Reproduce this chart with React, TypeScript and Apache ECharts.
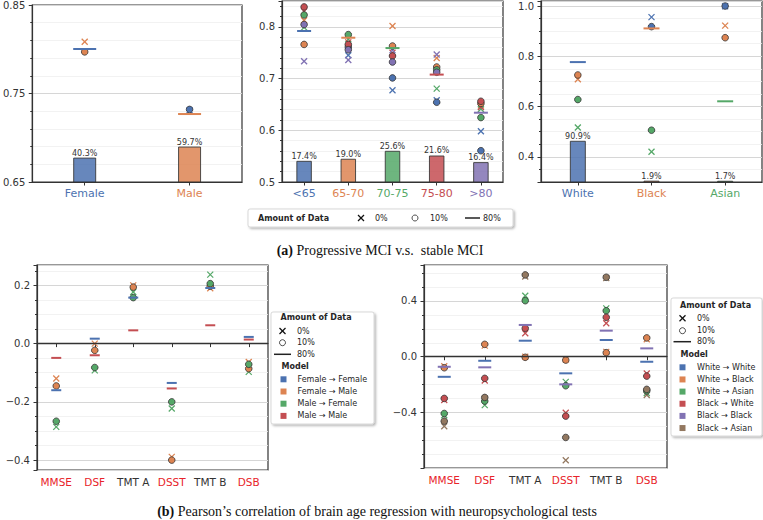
import React, { useEffect, useRef } from "react";
import * as echarts from "echarts";

const PALETTE = ["#4C72B0", "#DD8452", "#55A868", "#C44E52", "#8172B3", "#937860"];
const TEST_RED = "#E8232A";
const INK = "#333333";

// marker codes: 0 = "×" (0% data), 1 = "○" (10% data), 2 = "—" (80% data)
// point tuple: [categoryIndex, value, colorIndex, marker]

// ---- (a) gender ----
const genderCats = ["Female", "Male"];
const genderCatColors = [0, 1];
const genderPct = [40.3, 59.7];
const genderBarTop = [0.677, 0.6895];
const genderPoints: number[][] = [
  [0, 0.8085, 1, 0], [0, 0.797, 1, 1], [0, 0.8003, 0, 2],
  [1, 0.731, 0, 0], [1, 0.732, 0, 1], [1, 0.7268, 1, 2],
];

// ---- (a) age ----
const ageCats = ["<65", "65-70", "70-75", "75-80", ">80"];
const ageCatColors = [0, 1, 2, 3, 4];
const agePct = [17.4, 19.0, 25.6, 21.6, 16.4];
const ageBarTop = [0.54, 0.544, 0.5594, 0.5503, 0.5375];
const agePoints: number[][] = [
  [0, 0.792, 0, 2], [0, 0.8128, 1, 0], [0, 0.766, 1, 1], [0, 0.799, 2, 0], [0, 0.823, 2, 1],
  [0, 0.83, 3, 0], [0, 0.8385, 3, 1], [0, 0.7335, 4, 0], [0, 0.8045, 4, 1],
  [1, 0.779, 1, 2], [1, 0.745, 0, 0], [1, 0.761, 0, 1], [1, 0.776, 2, 0], [1, 0.785, 2, 1],
  [1, 0.77, 3, 0], [1, 0.766, 3, 1], [1, 0.736, 4, 0], [1, 0.7557, 4, 1],
  [2, 0.759, 2, 2], [2, 0.6774, 0, 0], [2, 0.7012, 0, 1], [2, 0.8017, 1, 0], [2, 0.763, 1, 1],
  [2, 0.75, 3, 0], [2, 0.7437, 3, 1], [2, 0.7547, 4, 0], [2, 0.732, 4, 1],
  [3, 0.7077, 3, 2], [3, 0.658, 0, 0], [3, 0.6542, 0, 1], [3, 0.7398, 1, 0], [3, 0.7224, 1, 1],
  [3, 0.6806, 2, 0], [3, 0.717, 2, 1], [3, 0.7464, 4, 0], [3, 0.7122, 4, 1],
  [4, 0.634, 4, 2], [4, 0.598, 0, 0], [4, 0.5605, 0, 1], [4, 0.648, 1, 0], [4, 0.652, 1, 1],
  [4, 0.641, 2, 0], [4, 0.6246, 2, 1], [4, 0.645, 3, 0], [4, 0.6561, 3, 1],
];

// ---- (a) race ----
const raceCats = ["White", "Black", "Asian"];
const raceCatColors = [0, 1, 2];
const racePct = [90.9, 1.9, 1.7];
const raceBarTop = [0.462, 0.3034, 0.303];
const racePoints: number[][] = [
  [0, 0.777, 0, 2], [0, 0.7086, 1, 0], [0, 0.7257, 1, 1], [0, 0.5165, 2, 0], [0, 0.628, 2, 1],
  [1, 0.911, 1, 2], [1, 0.956, 0, 0], [1, 0.918, 0, 1], [1, 0.42, 2, 0], [1, 0.506, 2, 1],
  [2, 0.621, 2, 2], [2, 0.999, 0, 0], [2, 1.0, 0, 1], [2, 0.922, 1, 0], [2, 0.874, 1, 1],
];

// ---- (b) tests ----
const testCats = ["MMSE", "DSF", "TMT A", "DSST", "TMT B", "DSB"];
const testIsRed = [true, true, false, true, false, true];

const genderTestPoints: number[][] = [
  [0, -0.16, 0, 2], [0, -0.049, 3, 2], [0, -0.12, 1, 0], [0, -0.1454, 1, 1], [0, -0.286, 2, 0], [0, -0.2666, 2, 1],
  [1, 0.017, 0, 2], [1, -0.04, 3, 2], [1, 0.0, 1, 0], [1, -0.023, 1, 1], [1, -0.092, 2, 0], [1, -0.082, 2, 1],
  [2, 0.158, 0, 2], [2, 0.0456, 3, 2], [2, 0.2, 1, 0], [2, 0.194, 1, 1], [2, 0.177, 2, 0], [2, 0.158, 2, 1],
  [3, -0.135, 0, 2], [3, -0.154, 3, 2], [3, -0.389, 1, 0], [3, -0.4, 1, 1], [3, -0.223, 2, 0], [3, -0.2, 2, 1],
  [4, 0.191, 0, 2], [4, 0.063, 3, 2], [4, 0.19, 1, 0], [4, 0.197, 1, 1], [4, 0.237, 2, 0], [4, 0.206, 2, 1],
  [5, 0.023, 0, 2], [5, 0.014, 3, 2], [5, -0.063, 1, 0], [5, -0.086, 1, 1], [5, -0.097, 2, 0], [5, -0.071, 2, 1],
];

const raceTestPoints: number[][] = [
  [0, -0.144, 0, 2], [0, -0.072, 4, 2], [0, -0.068, 1, 0], [0, -0.079, 1, 1], [0, -0.42, 2, 0], [0, -0.407, 2, 1],
  [0, -0.31, 3, 0], [0, -0.299, 3, 1], [0, -0.498, 5, 0], [0, -0.462, 5, 1],
  [1, -0.029, 0, 2], [1, -0.076, 4, 2], [1, 0.08, 1, 0], [1, 0.089, 1, 1], [1, -0.347, 2, 0], [1, -0.318, 2, 1],
  [1, -0.17, 3, 0], [1, -0.155, 3, 1], [1, -0.3, 5, 0], [1, -0.292, 5, 1],
  [2, 0.115, 0, 2], [2, 0.228, 4, 2], [2, 0.0, 1, 0], [2, -0.004, 1, 1], [2, 0.438, 2, 0], [2, 0.402, 2, 1],
  [2, 0.168, 3, 0], [2, 0.204, 3, 1], [2, 0.575, 5, 0], [2, 0.587, 5, 1],
  [3, -0.119, 0, 2], [3, -0.198, 4, 2], [3, -0.02, 1, 0], [3, -0.024, 1, 1], [3, -0.18, 2, 0], [3, -0.208, 2, 1],
  [3, -0.402, 3, 0], [3, -0.426, 3, 1], [3, -0.742, 5, 0], [3, -0.579, 5, 1],
  [4, 0.12, 0, 2], [4, 0.187, 4, 2], [4, 0.035, 1, 0], [4, 0.029, 1, 1], [4, 0.347, 2, 0], [4, 0.33, 2, 1],
  [4, 0.24, 3, 0], [4, 0.283, 3, 1], [4, 0.565, 5, 0], [4, 0.57, 5, 1],
  [5, -0.036, 0, 2], [5, 0.06, 4, 2], [5, 0.125, 1, 0], [5, 0.135, 1, 1], [5, -0.26, 2, 0], [5, -0.245, 2, 1],
  [5, -0.12, 3, 0], [5, -0.139, 3, 1], [5, -0.275, 5, 0], [5, -0.234, 5, 1],
];

const AMOUNT_LABELS = ["0%", "10%", "80%"];
const genderModels = ["Female \u2192 Female", "Female \u2192 Male", "Male \u2192 Female", "Male \u2192 Male"];
const raceModels = ["White \u2192 White", "White \u2192 Black", "White \u2192 Asian", "Black \u2192 White", "Black \u2192 Black", "Black \u2192 Asian"];

type Panel = {
  grid: any;
  y: any;
  minorSplit: number;
  dec: number;
  base: number;
  step: number;
  cats: string[];
  catColors: string[];
  pct?: number[];
  barTop?: number[];
  points: number[][];
  lineLen: number;
  barW: number;
  zeroLine?: boolean;
  xFont: number;
};

const panels: Panel[] = [
  {
    grid: { left: 29, top: 5, width: 213, height: 177 },
    y: { min: 0.65, max: 0.85, interval: 0.1 },
    minorSplit: 5, dec: 2, base: 0.65, step: 0.1,
    cats: genderCats, catColors: genderCatColors.map((i) => PALETTE[i]),
    pct: genderPct, barTop: genderBarTop, points: genderPoints, lineLen: 23, barW: 22, xFont: 11,
  },
  {
    grid: { left: 282, top: 1, width: 221, height: 181 },
    y: { min: 0.5, max: 0.85, interval: 0.1 },
    minorSplit: 5, dec: 1, base: 0, step: 0.1,
    cats: ageCats, catColors: ageCatColors.map((i) => PALETTE[i]),
    pct: agePct, barTop: ageBarTop, points: agePoints, lineLen: 14, barW: 14.5, xFont: 11,
  },
  {
    grid: { left: 541, top: 1, width: 221, height: 181 },
    y: { min: 0.3, max: 1.02, minInterval: 0.2, maxInterval: 0.2, splitNumber: 4 },
    minorSplit: 4, dec: 1, base: 0, step: 0.2,
    cats: raceCats, catColors: raceCatColors.map((i) => PALETTE[i]),
    pct: racePct, barTop: raceBarTop, points: racePoints, lineLen: 16, barW: 15, xFont: 11,
  },
  {
    grid: { left: 37, top: 265, width: 231, height: 205 },
    y: { min: -0.434, max: 0.27, minInterval: 0.2, maxInterval: 0.2, splitNumber: 4 },
    minorSplit: 4, dec: 1, base: 0, step: 0.2,
    cats: testCats, catColors: testIsRed.map((r) => (r ? TEST_RED : INK)),
    points: genderTestPoints, lineLen: 10, barW: 0, zeroLine: true, xFont: 10.5,
  },
  {
    grid: { left: 424, top: 265, width: 243, height: 203 },
    y: { min: -0.798, max: 0.658, minInterval: 0.4, maxInterval: 0.4, splitNumber: 4 },
    minorSplit: 4, dec: 1, base: 0, step: 0.4,
    cats: testCats, catColors: testIsRed.map((r) => (r ? TEST_RED : INK)),
    points: raceTestPoints, lineLen: 13, barW: 0, zeroLine: true, xFont: 10.5,
  },
];

function fmtTick(v: number, p: Panel) {
  const k = (v - p.base) / p.step;
  if (Math.abs(k - Math.round(k)) > 1e-4) return "";
  let s = v.toFixed(p.dec);
  if (/^-0\.0+$/.test(s)) s = s.slice(1);
  return s.replace("-", "\u2212");
}

function pointSeries(gi: number, p: Panel, marker: number) {
  const data = p.points.filter((d) => d[3] === marker).slice().sort((a, b) => a[2] - b[2]);
  const s: any = {
    type: "custom",
    xAxisIndex: gi,
    yAxisIndex: gi,
    clip: false,
    silent: true,
    z: 3 + marker,
    data,
    renderItem: (params: any, api: any) => {
      const pt = api.coord([api.value(0), api.value(1)]);
      const c = PALETTE[api.value(2)];
      const x = pt[0];
      const y = pt[1];
      if (marker === 0) {
        const r = 3;
        return {
          type: "group",
          children: [
            { type: "line", shape: { x1: x - r, y1: y - r, x2: x + r, y2: y + r }, style: { stroke: c, lineWidth: 1.3 } },
            { type: "line", shape: { x1: x - r, y1: y + r, x2: x + r, y2: y - r }, style: { stroke: c, lineWidth: 1.3 } },
          ],
        };
      }
      if (marker === 1) {
        return { type: "circle", shape: { cx: x, cy: y, r: 3.3 }, style: { fill: c, stroke: "#333", lineWidth: 0.8 } };
      }
      const L = p.lineLen / 2;
      return { type: "line", shape: { x1: x - L, y1: y, x2: x + L, y2: y }, style: { stroke: c, lineWidth: 2 } };
    },
  };
  if (p.zeroLine && marker === 2) {
    s.markLine = {
      silent: true,
      symbol: "none",
      label: { show: false },
      lineStyle: { color: "#333", width: 1.3, type: "solid" },
      data: [{ yAxis: 0 }],
    };
  }
  return s;
}

function barSeries(gi: number, p: Panel) {
  const data = (p.barTop || []).map((v, i) => [i, v, (p.pct || [])[i]]);
  return {
    type: "custom",
    xAxisIndex: gi,
    yAxisIndex: gi,
    silent: true,
    z: 2,
    data,
    renderItem: (params: any, api: any) => {
      const idx = api.value(0);
      const top = api.coord([idx, api.value(1)]);
      const bottomY = params.coordSys.y + params.coordSys.height;
      const w = p.barW;
      const h = bottomY - top[1];
      return {
        type: "group",
        children: [
          {
            type: "rect",
            shape: { x: top[0] - w / 2, y: top[1], width: w, height: h },
            style: { fill: p.catColors[idx], opacity: 0.85, stroke: "#333", lineWidth: 1 },
          },
          {
            type: "text",
            style: {
              text: Number(api.value(2)).toFixed(1) + "%",
              x: top[0],
              y: top[1] - 1,
              align: "center",
              verticalAlign: "bottom",
              fontSize: 8,
              fontFamily: "DejaVu Sans",
              fill: "#333",
            },
          },
        ],
      };
    },
  };
}

function buildLegend() {
  const els: any[] = [];
  const T = (x: number, y: number, text: string, bold = false) =>
    els.push({
      type: "text", x, y, z: 101, silent: true,
      style: { text, fill: "#262626", fontSize: 8, fontWeight: bold ? "bold" : "normal", fontFamily: "DejaVu Sans", align: "left", verticalAlign: "middle" },
    });
  const X = (cx: number, cy: number) => {
    const r = 3;
    els.push({ type: "line", z: 101, shape: { x1: cx - r, y1: cy - r, x2: cx + r, y2: cy + r }, style: { stroke: "#111", lineWidth: 1.3 } });
    els.push({ type: "line", z: 101, shape: { x1: cx - r, y1: cy + r, x2: cx + r, y2: cy - r }, style: { stroke: "#111", lineWidth: 1.3 } });
  };
  const O = (cx: number, cy: number) =>
    els.push({ type: "circle", z: 101, shape: { cx, cy, r: 3 }, style: { fill: "#fff", stroke: "#222", lineWidth: 0.8 } });
  const D = (x1: number, x2: number, y: number) =>
    els.push({ type: "line", z: 101, shape: { x1, y1: y, x2, y2: y }, style: { stroke: "#222", lineWidth: 1.5 } });
  const S = (cx: number, cy: number, color: string) =>
    els.push({ type: "rect", z: 101, shape: { x: cx - 3, y: cy - 3, width: 6, height: 6 }, style: { fill: color } });
  const BOX = (x: number, y: number, w: number, h: number) =>
    els.push({
      type: "rect", z: 100, shape: { x, y, width: w, height: h, r: 2 },
      style: { fill: "#fff", stroke: "#cfcfcf", lineWidth: 0.8, shadowBlur: 2, shadowOffsetX: 1.5, shadowOffsetY: 1.5, shadowColor: "rgba(0,0,0,0.3)" },
    });

  // top legend (horizontal)
  BOX(248, 209, 265, 18);
  T(258, 218, "Amount of Data", true);
  X(361, 218); T(375, 218, AMOUNT_LABELS[0]);
  O(415, 218); T(430, 218, AMOUNT_LABELS[1]);
  D(465, 480, 218); T(483, 218, AMOUNT_LABELS[2]);

  // bottom-left legend
  BOX(271, 312, 103, 112);
  T(280.5, 317.5, "Amount of Data", true);
  X(282.5, 331); T(297, 331, AMOUNT_LABELS[0]);
  O(282.5, 342.7); T(297, 342.7, AMOUNT_LABELS[1]);
  D(274, 291, 354.3); T(297, 354.3, AMOUNT_LABELS[2]);
  T(281.5, 366, "Model", true);
  genderModels.forEach((m, i) => {
    const y = 379.3 + i * 12.2;
    S(283.5, y, PALETTE[i]);
    T(297.5, y, m);
  });

  // bottom-right legend
  BOX(671, 298, 91, 138);
  T(680, 305, "Amount of Data", true);
  X(682.5, 318.3); T(697, 318.3, AMOUNT_LABELS[0]);
  O(682.5, 330.7); T(697, 330.7, AMOUNT_LABELS[1]);
  D(673.5, 691, 341.7); T(697, 341.7, AMOUNT_LABELS[2]);
  T(680.5, 354, "Model", true);
  raceModels.forEach((m, i) => {
    const y = 367.3 + i * 12.15;
    S(682.5, y, PALETTE[i]);
    T(697, y, m);
  });

  // captions
  els.push({
    type: "text", x: 380, y: 250, z: 101, silent: true,
    style: {
      text: "{b|(a)} Progressive MCI v.s.  stable MCI",
      fontFamily: "Liberation Serif", fontSize: 14, fill: "#111", align: "center", verticalAlign: "middle",
      rich: { b: { fontFamily: "Liberation Serif", fontSize: 14, fontWeight: "bold", fill: "#111" } },
    },
  });
  els.push({
    type: "text", x: 377, y: 511, z: 101, silent: true,
    style: {
      text: "{b|(b)} Pearson\u2019s correlation of brain age regression with neuropsychological tests",
      fontFamily: "Liberation Serif", fontSize: 14, fill: "#111", align: "center", verticalAlign: "middle",
      rich: { b: { fontFamily: "Liberation Serif", fontSize: 14, fontWeight: "bold", fill: "#111" } },
    },
  });
  return els;
}

function buildOption() {
  const grid: any[] = [];
  const xAxis: any[] = [];
  const yAxis: any[] = [];
  const series: any[] = [];
  panels.forEach((p, gi) => {
    grid.push({ ...p.grid, show: true, borderColor: "#333", borderWidth: 1.2, backgroundColor: "transparent" });
    xAxis.push({
      type: "category",
      gridIndex: gi,
      data: p.cats,
      boundaryGap: true,
      axisLine: { show: true, lineStyle: { color: "#333", width: 1.2 } },
      axisTick: { show: true, alignWithLabel: true, interval: 0, length: 3.5, lineStyle: { color: "#333" } },
      axisLabel: {
        interval: 0,
        hideOverlap: false,
        margin: 6,
        fontSize: p.xFont,
        fontFamily: "DejaVu Sans",
        color: (_v: any, idx: number) => p.catColors[idx],
      },
      splitLine: { show: false },
    });
    yAxis.push({
      type: "value",
      gridIndex: gi,
      ...p.y,
      axisLine: { show: true, lineStyle: { color: "#333", width: 1.2 } },
      axisTick: { show: true, length: 3.5, lineStyle: { color: "#333" } },
      minorTick: { show: true, splitNumber: p.minorSplit, length: 2, lineStyle: { color: "#333" } },
      axisLabel: {
        margin: 7,
        fontSize: 10,
        fontFamily: "DejaVu Sans",
        color: "#333",
        formatter: (v: number) => fmtTick(v, p),
      },
      splitLine: { show: true, lineStyle: { color: "#d6d6d6", width: 1 } },
      minorSplitLine: { show: true, lineStyle: { color: "#efefef", width: 0.8 } },
    });
    if (p.barTop) series.push(barSeries(gi, p));
    series.push(pointSeries(gi, p, 0));
    series.push(pointSeries(gi, p, 1));
    series.push(pointSeries(gi, p, 2));
  });
  return {
    animation: false,
    backgroundColor: "#ffffff",
    textStyle: { fontFamily: "DejaVu Sans" },
    grid,
    xAxis,
    yAxis,
    series,
    graphic: { elements: buildLegend() },
  };
}

export default function App() {
  const ref = useRef<HTMLDivElement>(null);
  useEffect(() => {
    if (!ref.current) return;
    const chart = echarts.init(ref.current, null, { renderer: "svg" });
    chart.setOption(buildOption() as any);
    return () => chart.dispose();
  }, []);
  return (
    <div
      ref={ref}
      style={{ position: "fixed", left: 0, top: 0, width: 763, height: 520, background: "#fff" }}
    />
  );
}
